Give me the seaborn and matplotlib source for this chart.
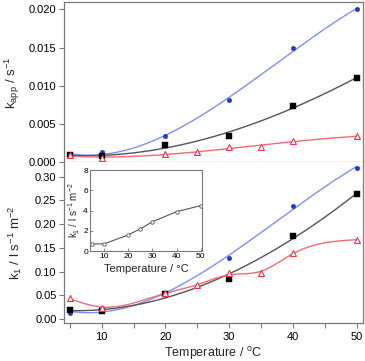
import numpy as np
import pandas as pd
import matplotlib
matplotlib.use("Agg")
import matplotlib.pyplot as plt
import seaborn as sns

# temperatures (degC)
temp_main = [5, 10, 20, 30, 40, 50]
temp_red = [5, 10, 20, 25, 30, 35, 40, 50]
temp_inset = [5, 10, 20, 25, 30, 40, 50]

# top panel: k_app / s^-1
kapp_blue = [0.0009, 0.0014, 0.0035, 0.0081, 0.0149, 0.0200]
kapp_black = [0.0009, 0.0008, 0.0022, 0.0035, 0.0074, 0.0110]
kapp_red = [0.0009, 0.0005, 0.0011, 0.0014, 0.00196, 0.00196, 0.0028, 0.0034]

# bottom panel: k1 / l s^-1 m^-2
k1_blue = [0.0127, 0.022, 0.055, 0.128, 0.238, 0.319]
k1_black = [0.019, 0.017, 0.053, 0.085, 0.176, 0.263]
k1_red = [0.0437, 0.0246, 0.0557, 0.071, 0.0966, 0.097, 0.140, 0.167]

# inset
k1_inset = [0.7, 0.7, 1.6, 2.2, 2.9, 3.9, 4.5]

BLUE_LINE = "#7f8ff5"
BLUE_MARK = "#1d3ccc"
BLACK_LINE = "#555555"
RED_LINE = "#f26a78"
RED_MARK = "#ee3344"
FRAME = "#7a7a7a"

sns.set_style("ticks")
plt.rcParams["font.family"] = ["Liberation Sans", "DejaVu Sans"]
plt.rcParams["mathtext.fontset"] = "custom"
plt.rcParams["mathtext.rm"] = "Liberation Sans"
plt.rcParams["mathtext.it"] = "Liberation Sans:italic"
plt.rcParams["axes.edgecolor"] = FRAME
plt.rcParams["xtick.color"] = FRAME
plt.rcParams["ytick.color"] = FRAME
plt.rcParams["xtick.labelcolor"] = "black"
plt.rcParams["ytick.labelcolor"] = "black"


def poly_curve(x, y, deg):
    coef = np.polyfit(x, y, deg)
    xs = np.linspace(min(x), max(x), 200)
    return pd.DataFrame({"T": xs, "k": np.polyval(coef, xs)})


def smooth_curve(x, y, lam):
    # penalised (smoothing-spline like) fit on a fine grid
    h = 0.25
    xs = np.arange(min(x), max(x) + h / 2, h)
    n = len(xs)
    idx = [int(round((xi - xs[0]) / h)) for xi in x]
    W = np.zeros((n, n))
    b = np.zeros(n)
    for i, yi in zip(idx, y):
        W[i, i] += 1.0
        b[i] += yi
    D = np.diff(np.eye(n), 2, axis=0)
    f = np.linalg.solve(W + lam / h ** 3 * D.T @ D, b)
    return pd.DataFrame({"T": xs, "k": f})


def draw_series(ax, curve, x, y, lcolor, mcolor, marker, filled=True, ms=18):
    sns.lineplot(data=curve, x="T", y="k", ax=ax, color=lcolor, lw=1.0)
    df = pd.DataFrame({"T": x, "k": y})
    if filled:
        sns.scatterplot(data=df, x="T", y="k", ax=ax, marker=marker, s=ms,
                        color=mcolor, edgecolor=mcolor, zorder=5)
    else:
        sns.scatterplot(data=df, x="T", y="k", ax=ax, marker=marker, s=ms,
                        facecolor="white", edgecolor=mcolor, linewidth=0.8, zorder=5)


fig = plt.figure(figsize=(3.65, 3.61), dpi=100)
ax_top = fig.add_axes([0.174, 0.5504, 0.8205, 0.4427])
ax_bot = fig.add_axes([0.174, 0.1053, 0.8205, 0.4452])

# top panel
draw_series(ax_top, poly_curve(temp_main, kapp_blue, 3), temp_main, kapp_blue,
            BLUE_LINE, BLUE_MARK, "o", ms=11)
draw_series(ax_top, poly_curve(temp_main, kapp_black, 3), temp_main, kapp_black,
            BLACK_LINE, "black", "s", ms=14)
draw_series(ax_top, poly_curve(temp_red, kapp_red, 3), temp_red, kapp_red,
            RED_LINE, RED_MARK, "^", filled=False, ms=18)

# bottom panel
draw_series(ax_bot, poly_curve(temp_main, k1_blue, 3), temp_main, k1_blue,
            BLUE_LINE, BLUE_MARK, "o", ms=11)
draw_series(ax_bot, poly_curve(temp_main, k1_black, 3), temp_main, k1_black,
            BLACK_LINE, "black", "s", ms=14)
draw_series(ax_bot, smooth_curve(temp_red, k1_red, 2.5), temp_red, k1_red,
            RED_LINE, RED_MARK, "^", filled=False, ms=18)

for ax in (ax_top, ax_bot):
    ax.set_xlim(4, 51)
    ax.set_xticks([10, 20, 30, 40, 50])
    ax.set_xticks([5, 15, 25, 35, 45], minor=True)
    ax.tick_params(axis="both", which="both", direction="out", labelsize=8,
                   length=3.5, width=0.8, pad=1.5)
    for sp in ax.spines.values():
        sp.set_visible(True)
        sp.set_linewidth(0.9)

ax_top.set_ylim(0, 0.0209)
ax_top.set_yticks([0.000, 0.005, 0.010, 0.015, 0.020])
ax_top.set_yticklabels(["0.000", "0.005", "0.010", "0.015", "0.020"])
ax_top.tick_params(axis="x", labelbottom=False)
ax_top.set_xlabel("")
ax_top.set_ylabel(r"k$_{\mathrm{app}}$ / s$^{-1}$", fontsize=9.5, labelpad=5)

ax_bot.set_ylim(-0.0078, 0.330)
ax_bot.set_yticks([0.00, 0.05, 0.10, 0.15, 0.20, 0.25, 0.30])
ax_bot.set_yticklabels(["0.00", "0.05", "0.10", "0.15", "0.20", "0.25", "0.30"])
ax_bot.spines["top"].set_visible(False)
ax_bot.tick_params(axis="x", pad=3)
ax_bot.set_xlabel(r"Temperature / $^{\mathrm{o}}$C", fontsize=9, labelpad=2)
ax_bot.set_ylabel(r"k$_{1}$ / l s$^{-1}$ m$^{-2}$", fontsize=9.5, labelpad=8)

# inset
ax_in = fig.add_axes([0.2466, 0.3047, 0.307, 0.2236])
sns.lineplot(x=temp_inset, y=k1_inset, ax=ax_in, color=BLACK_LINE, lw=0.8,
             marker="o", markersize=2.5, markerfacecolor="white",
             markeredgecolor=BLACK_LINE, markeredgewidth=0.6)
ax_in.set_xlim(4.2, 50.5)
ax_in.set_ylim(0, 8)
ax_in.set_xticks([10, 20, 30, 40, 50])
ax_in.set_yticks([0, 2, 4, 6, 8])
ax_in.tick_params(axis="both", direction="in", labelsize=6, length=2, width=0.6, pad=1.5)
for sp in ax_in.spines.values():
    sp.set_linewidth(0.8)
ax_in.set_xlabel("Temperature / \u00b0C", fontsize=8, labelpad=3)
ax_in.set_ylabel(r"k$_{1}$ / l s$^{-1}$ m$^{-2}$", fontsize=7, labelpad=1)

fig.savefig("out.png", dpi=100)
